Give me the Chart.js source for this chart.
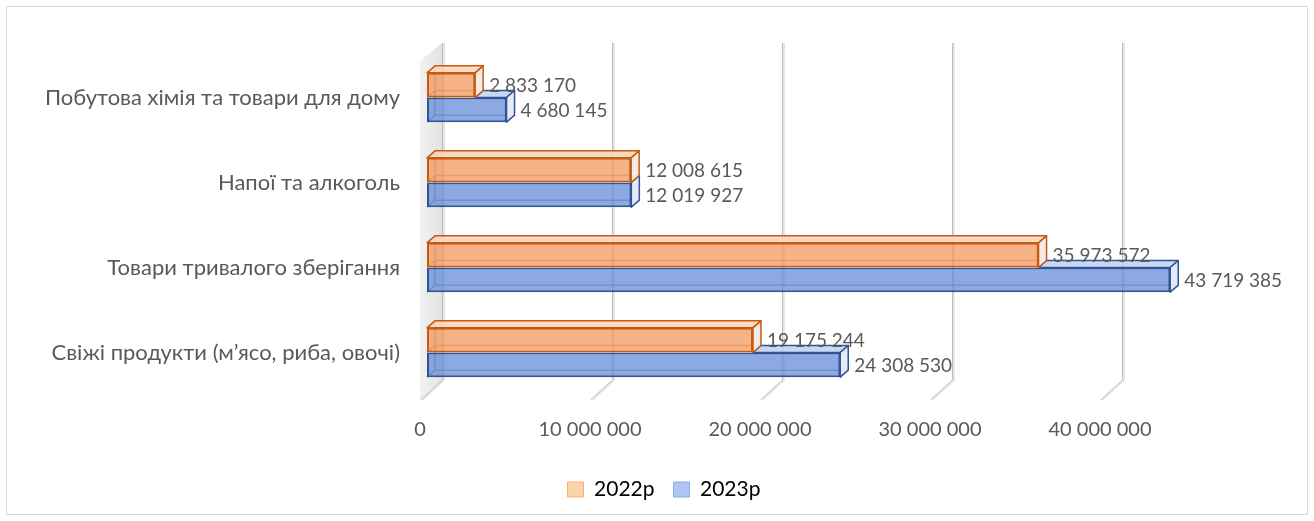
<!DOCTYPE html>
<html>
<head>
<meta charset="utf-8">
<script src="https://cdn.jsdelivr.net/npm/chart.js@4.4.1/dist/chart.umd.min.js"></script>
<style>
  html, body { margin: 0; padding: 0; background: #fff; }
</style>
</head>
<body>
<canvas id="myChart" width="1314" height="521"></canvas>
<script>
const categories = [
    'Побутова хімія та товари для дому',
    'Напої та алкоголь',
    'Товари тривалого зберігання',
    'Свіжі продукти (м’ясо, риба, овочі)'
];
const seriesNames = ['2022р', '2023р'];
const sales2022 = [2833170, 12008615, 35973572, 19175244];
const sales2023 = [4680145, 12019927, 43719385, 24308530];
const tickValues = [0, 10000000, 20000000, 30000000, 40000000];

const TEXT = '#595959';
const FONT = 'Lato';

// box faces: front, top, end, edge
const orange = { front: 'rgba(244,150,90,0.72)', top: 'rgba(251,214,188,0.9)', end: 'rgba(243,233,231,0.95)', edge: '#C55A11' };
const blue = { front: 'rgba(100,140,215,0.74)', top: 'rgba(196,212,241,0.9)', end: 'rgba(228,233,243,0.95)', edge: '#2F5597' };

// depth of a bar and of the back wall
const DX = 8, DY = -7;
const WALL_SHIFT = 15, FLOOR_DX = 22;

function fmt(v) {
    return String(v).replace(/\B(?=(\d{3})+(?!\d))/g, ' ');
}

function poly(c, pts, fill, stroke, lw) {
    c.beginPath();
    c.moveTo(pts[0][0], pts[0][1]);
    for (let i = 1; i < pts.length; i++) c.lineTo(pts[i][0], pts[i][1]);
    c.closePath();
    if (fill) { c.fillStyle = fill; c.fill(); }
    if (stroke) { c.strokeStyle = stroke; c.lineWidth = lw || 1.5; c.stroke(); }
}

function box(el) {
    return { L: el.base, R: el.x, T: el.y - el.height / 2, B: el.y + el.height / 2 };
}

const scene3d = {
    id: 'scene3d',
    beforeDraw(chart) {
        const c = chart.ctx;
        c.save();
        c.strokeStyle = '#D9D9D9';
        c.lineWidth = 1;
        c.strokeRect(6.5, 6.5, chart.width - 13, chart.height - 13);
        c.restore();
    },
    beforeDatasetsDraw(chart) {
        const c = chart.ctx;
        const xs = chart.scales.x;
        const { top, bottom } = chart.chartArea;
        const wTop = top - 12, wBottom = bottom - 15, fBottom = bottom + 5;
        c.save();

        // left wall
        const x0 = xs.getPixelForValue(0) + WALL_SHIFT;
        const g = c.createLinearGradient(x0 - FLOOR_DX, 0, x0, 0);
        g.addColorStop(0, '#F2F2F2');
        g.addColorStop(1, '#E2E2E2');
        poly(c, [[x0, wTop], [x0, wBottom], [x0 - FLOOR_DX, fBottom], [x0 - FLOOR_DX, wTop + 18]], g);

        // gridlines on the back wall and across the floor
        xs.ticks.forEach(t => {
            const px = Math.round(xs.getPixelForValue(t.value) + WALL_SHIFT) + 0.5;
            c.beginPath();
            c.moveTo(px + 1.5, wTop);
            c.lineTo(px + 1.5, wBottom);
            c.lineTo(px + 1.5 - FLOOR_DX, fBottom);
            c.strokeStyle = '#E6E6E6';
            c.lineWidth = 2;
            c.stroke();
            c.beginPath();
            c.moveTo(px, wTop);
            c.lineTo(px, wBottom);
            c.lineTo(px - FLOOR_DX, fBottom);
            c.strokeStyle = '#BDBDBD';
            c.lineWidth = 1;
            c.stroke();
        });

        // hidden back edges, seen through the bars
        [orange, blue].forEach((col, d) => {
            chart.getDatasetMeta(d).data.forEach(el => {
                const b = box(el);
                c.beginPath();
                c.moveTo(b.L + DX, b.T + DY);
                c.lineTo(b.L + DX, b.B + DY);
                c.lineTo(b.R + DX, b.B + DY);
                c.moveTo(b.L, b.B);
                c.lineTo(b.L + DX, b.B + DY);
                c.strokeStyle = col.edge;
                c.globalAlpha = 0.55;
                c.lineWidth = 1.5;
                c.stroke();
                c.globalAlpha = 1;
            });
        });
        c.restore();
    },
    afterDatasetsDraw(chart) {
        const c = chart.ctx;
        const m0 = chart.getDatasetMeta(0).data;
        const m1 = chart.getDatasetMeta(1).data;
        c.save();
        c.lineJoin = 'round';
        m0.forEach((el0, i) => {
            const a = box(el0), b = box(m1[i]);
            // lower bar: only the part of its top beyond the upper bar shows
            if (b.R > a.R) {
                poly(c, [[a.R, b.T], [a.R + DX, b.T + DY], [b.R + DX, b.T + DY], [b.R, b.T]], blue.top, blue.edge);
            }
            poly(c, [[b.R, b.T], [b.R + DX, b.T + DY], [b.R + DX, b.B + DY], [b.R, b.B]], blue.end, blue.edge);
            poly(c, [[a.L, a.T], [a.L + DX, a.T + DY], [a.R + DX, a.T + DY], [a.R, a.T]], orange.top, orange.edge);
            poly(c, [[a.R, a.T], [a.R + DX, a.T + DY], [a.R + DX, a.B + DY], [a.R, a.B]], orange.end, orange.edge);
        });

        // value labels
        c.fillStyle = TEXT;
        c.font = '19px ' + FONT;
        c.textAlign = 'left';
        c.textBaseline = 'middle';
        chart.data.datasets.forEach((ds, d) => {
            chart.getDatasetMeta(d).data.forEach((el, i) => {
                c.fillText(fmt(ds.data[i]), el.x + 14, el.y + 1);
            });
        });
        c.restore();
    }
};

Chart.defaults.font.family = FONT;
Chart.defaults.color = TEXT;

new Chart(document.getElementById('myChart'), {
    type: 'bar',
    data: {
        labels: categories,
        datasets: [{
            label: seriesNames[0],
            data: sales2022,
            backgroundColor: orange.front,
            borderColor: orange.edge,
            borderWidth: 2,
            borderSkipped: false
        }, {
            label: seriesNames[1],
            data: sales2023,
            backgroundColor: blue.front,
            borderColor: blue.edge,
            borderWidth: 2,
            borderSkipped: false
        }]
    },
    options: {
        indexAxis: 'y',
        responsive: false,
        animation: false,
        devicePixelRatio: 1,
        categoryPercentage: 0.58,
        barPercentage: 1.0,
        layout: { padding: { left: 34, right: 20, top: 55, bottom: 11 } },
        scales: {
            x: {
                min: 0,
                max: 51000000,
                afterBuildTicks: s => { s.ticks = tickValues.map(v => ({ value: v })); },
                afterFit: s => { s.height = 65; },
                ticks: {
                    callback: v => fmt(v),
                    padding: 23,
                    labelOffset: -7,
                    autoSkip: false,
                    maxRotation: 0,
                    font: { size: 20 },
                    color: TEXT
                },
                grid: { display: false, drawTicks: false },
                border: { display: false }
            },
            y: {
                afterFit: s => { s.width = 393; },
                ticks: { padding: 27, font: { size: 22 }, color: TEXT },
                grid: { display: false, drawTicks: false },
                border: { display: false }
            }
        },
        plugins: {
            tooltip: { enabled: false },
            legend: {
                position: 'bottom',
                labels: {
                    font: { size: 21 },
                    color: TEXT,
                    boxWidth: 16,
                    boxHeight: 15,
                    padding: 19,
                    generateLabels: () => [
                        { text: seriesNames[0], fillStyle: '#FDD3A8', strokeStyle: '#F4B183', lineWidth: 1, datasetIndex: 0, hidden: false },
                        { text: seriesNames[1], fillStyle: '#ADC6F4', strokeStyle: '#8FAADC', lineWidth: 1, datasetIndex: 1, hidden: false }
                    ]
                }
            }
        }
    },
    plugins: [scene3d]
});
</script>
</body>
</html>
